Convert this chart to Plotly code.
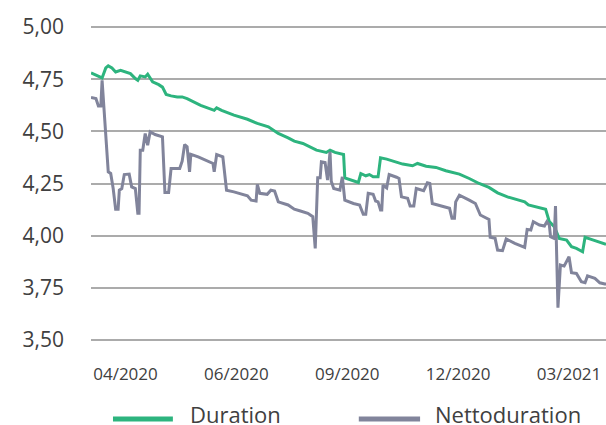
import plotly.graph_objects as go

# Duration series (date, value)
dur_dates = [
    "2020-03-04", "2020-03-10", "2020-03-13", "2020-03-16", "2020-03-18", "2020-03-21",
    "2020-03-24", "2020-03-28", "2020-04-01", "2020-04-05", "2020-04-09", "2020-04-11",
    "2020-04-13", "2020-04-17", "2020-04-19", "2020-04-23", "2020-04-28", "2020-05-01",
    "2020-05-04", "2020-05-08", "2020-05-13", "2020-05-17", "2020-05-21", "2020-05-25",
    "2020-06-01", "2020-06-12", "2020-06-14", "2020-06-18", "2020-06-28", "2020-07-09",
    "2020-07-17", "2020-07-26", "2020-08-03", "2020-08-11", "2020-08-16", "2020-08-23",
    "2020-09-03", "2020-09-11", "2020-09-14", "2020-09-18", "2020-09-25", "2020-09-26",
    "2020-10-02", "2020-10-07", "2020-10-09", "2020-10-13", "2020-10-16", "2020-10-19",
    "2020-10-23", "2020-10-25", "2020-10-30", "2020-11-07", "2020-11-12", "2020-11-20",
    "2020-11-24", "2020-12-01", "2020-12-09", "2020-12-17", "2020-12-28", "2021-01-05",
    "2021-01-13", "2021-01-21", "2021-01-28", "2021-02-05", "2021-02-19", "2021-02-22",
    "2021-03-02", "2021-03-08", "2021-03-11", "2021-03-15", "2021-03-19", "2021-03-25",
    "2021-03-29", "2021-04-02", "2021-04-07", "2021-04-09", "2021-04-14", "2021-04-20",
    "2021-04-25", "2021-04-26",
]
dur_values = [
    4.780, 4.766, 4.756, 4.804, 4.814, 4.804,
    4.785, 4.793, 4.785, 4.777, 4.753, 4.745,
    4.766, 4.761, 4.774, 4.737, 4.724, 4.712,
    4.677, 4.670, 4.665, 4.665, 4.657, 4.645,
    4.625, 4.601, 4.613, 4.601, 4.578, 4.558,
    4.538, 4.522, 4.490, 4.469, 4.453, 4.442,
    4.410, 4.399, 4.410, 4.399, 4.389, 4.277,
    4.266, 4.255, 4.298, 4.287, 4.293, 4.282,
    4.282, 4.373, 4.367, 4.354, 4.343, 4.335,
    4.346, 4.333, 4.327, 4.311, 4.295, 4.274,
    4.250, 4.231, 4.205, 4.186, 4.162, 4.147,
    4.136, 4.126, 4.067, 4.043, 3.987, 3.979,
    3.947, 3.939, 3.923, 3.992, 3.982, 3.971,
    3.960, 3.958,
]

# Nettoduration series (date, value)
net_dates = [
    "2020-03-04", "2020-03-08", "2020-03-10", "2020-03-12", "2020-03-13", "2020-03-14",
    "2020-03-16", "2020-03-18", "2020-03-20", "2020-03-22", "2020-03-24", "2020-03-26",
    "2020-03-27", "2020-03-29", "2020-03-31", "2020-04-04", "2020-04-06", "2020-04-09",
    "2020-04-11", "2020-04-12", "2020-04-13", "2020-04-15", "2020-04-17", "2020-04-19",
    "2020-04-21", "2020-04-25", "2020-05-01", "2020-05-03", "2020-05-06", "2020-05-08",
    "2020-05-15", "2020-05-17", "2020-05-19", "2020-05-21", "2020-05-23", "2020-05-24",
    "2020-05-30", "2020-06-07", "2020-06-11", "2020-06-12", "2020-06-14", "2020-06-19",
    "2020-06-22", "2020-06-28", "2020-07-02", "2020-07-09", "2020-07-12", "2020-07-16",
    "2020-07-17", "2020-07-19", "2020-07-25", "2020-07-28", "2020-07-31", "2020-08-03",
    "2020-08-11", "2020-08-16", "2020-08-21", "2020-08-27", "2020-08-31", "2020-09-02",
    "2020-09-04", "2020-09-06", "2020-09-07", "2020-09-10", "2020-09-12", "2020-09-14",
    "2020-09-15", "2020-09-17", "2020-09-22", "2020-09-24", "2020-09-26", "2020-10-03",
    "2020-10-08", "2020-10-11", "2020-10-13", "2020-10-15", "2020-10-19", "2020-10-21",
    "2020-10-23", "2020-10-25", "2020-10-26", "2020-10-27", "2020-10-30", "2020-11-01",
    "2020-11-07", "2020-11-09", "2020-11-11", "2020-11-16", "2020-11-18", "2020-11-21",
    "2020-11-23", "2020-11-29", "2020-12-02", "2020-12-04", "2020-12-06", "2020-12-14",
    "2020-12-20", "2020-12-22", "2020-12-24", "2020-12-25", "2020-12-28", "2021-01-05",
    "2021-01-10", "2021-01-14", "2021-01-21", "2021-01-22", "2021-01-26", "2021-01-28",
    "2021-02-01", "2021-02-04", "2021-02-11", "2021-02-19", "2021-02-21", "2021-02-24",
    "2021-02-26", "2021-03-03", "2021-03-07", "2021-03-09", "2021-03-11", "2021-03-12",
    "2021-03-15", "2021-03-16", "2021-03-18", "2021-03-20", "2021-03-23", "2021-03-27",
    "2021-03-29", "2021-04-02", "2021-04-06", "2021-04-09", "2021-04-11", "2021-04-17",
    "2021-04-21", "2021-04-25", "2021-04-26",
]
net_values = [
    4.662, 4.657, 4.622, 4.622, 4.745, 4.657,
    4.466, 4.306, 4.298, 4.226, 4.127, 4.127,
    4.218, 4.226, 4.293, 4.295, 4.234, 4.226,
    4.107, 4.107, 4.410, 4.410, 4.490, 4.434,
    4.498, 4.485, 4.474, 4.207, 4.207, 4.322,
    4.322, 4.357, 4.437, 4.426, 4.306, 4.390,
    4.378, 4.357, 4.346, 4.306, 4.389, 4.378,
    4.218, 4.210, 4.203, 4.191, 4.170, 4.166,
    4.246, 4.203, 4.198, 4.218, 4.214, 4.162,
    4.147, 4.127, 4.118, 4.107, 4.091, 3.939,
    4.277, 4.277, 4.354, 4.351, 4.266, 4.402,
    4.261, 4.226, 4.218, 4.282, 4.170, 4.154,
    4.147, 4.102, 4.102, 4.203, 4.198, 4.166,
    4.162, 4.123, 4.123, 4.242, 4.229, 4.293,
    4.280, 4.274, 4.186, 4.179, 4.142, 4.142,
    4.226, 4.215, 4.253, 4.250, 4.154, 4.142,
    4.131, 4.083, 4.083, 4.162, 4.194, 4.170,
    4.154, 4.099, 4.078, 3.992, 3.987, 3.931,
    3.928, 3.984, 3.963, 3.944, 4.030, 4.027,
    4.067, 4.051, 4.046, 4.067, 4.051, 3.995,
    3.987, 4.142, 3.655, 3.859, 3.854, 3.899,
    3.822, 3.819, 3.779, 3.774, 3.807, 3.795,
    3.774, 3.768, 3.768,
]

x_tick_dates = ["2020-04-01", "2020-06-30", "2020-09-28", "2020-12-27", "2021-03-27"]
x_tick_labels = ["04/2020", "06/2020", "09/2020", "12/2020", "03/2021"]
y_tick_vals = [3.50, 3.75, 4.00, 4.25, 4.50, 4.75, 5.00]
y_tick_labels = ["3,50", "3,75", "4,00", "4,25", "4,50", "4,75", "5,00"]

series_names = ["Duration", "Nettoduration"]
GREEN = "#2db47e"
GRAY = "#81849b"
FONT = "Open Sans"

fig = go.Figure()
fig.add_trace(go.Scatter(x=dur_dates, y=dur_values, mode="lines", name=series_names[0],
                         line=dict(color=GREEN, width=3)))
fig.add_trace(go.Scatter(x=net_dates, y=net_values, mode="lines", name=series_names[1],
                         line=dict(color=GRAY, width=3)))

fig.update_layout(
    width=606, height=425,
    margin=dict(l=91, r=0, t=25, b=83, autoexpand=False),
    paper_bgcolor="white", plot_bgcolor="white",
    showlegend=False,
    font=dict(family=FONT, color="#404040"),
    xaxis=dict(
        type="date", range=["2020-03-04", "2021-04-26"],
        tickvals=x_tick_dates, ticktext=x_tick_labels,
        showgrid=False, showline=False, zeroline=False,
        tickfont=dict(size=17, color="#404040"),
        ticklabelstandoff=20, automargin=False,
    ),
    yaxis=dict(
        range=[3.49, 5.01],
        tickvals=y_tick_vals, ticktext=y_tick_labels,
        showgrid=True, gridcolor="#ababab", gridwidth=2,
        showline=False, zeroline=False,
        tickfont=dict(size=21, color="#404040"),
        ticklabelstandoff=26, automargin=False,
    ),
)

# legend drawn below the plot
legend_items = [
    (series_names[0], GREEN, 0.0427, 0.159, 0.188),
    (series_names[1], GRAY, 0.520, 0.639, 0.664),
]
for name, color, x0, x1, xt in legend_items:
    fig.add_shape(type="line", xref="paper", yref="paper", x0=x0, x1=x1, y0=-0.243, y1=-0.243,
                  line=dict(color=color, width=5))
    fig.add_annotation(text=name, xref="paper", yref="paper", x=xt, y=-0.226,
                       xanchor="left", yanchor="middle", showarrow=False, height=24,
                       font=dict(size=22, color="#404040", family=FONT))

fig.write_html(
    "out.html",
    config={"displayModeBar": False},
    post_script="document.body.style.margin='0';document.body.style.padding='0';"
                "document.body.style.overflow='hidden';",
)
